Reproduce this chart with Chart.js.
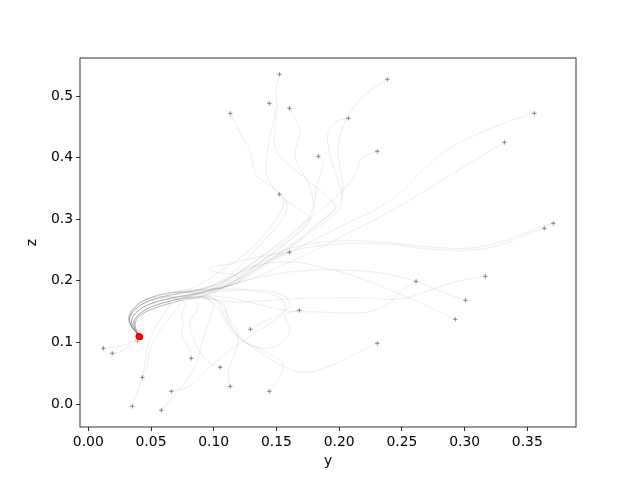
<!DOCTYPE html>
<html>
<head>
<meta charset="utf-8">
<script src="https://cdn.jsdelivr.net/npm/chart.js@4/dist/chart.umd.min.js"></script>
<style>
  html, body { margin: 0; padding: 0; background: #fff; }
  canvas { display: block; }
</style>
</head>
<body>
<canvas id="chart" width="640" height="480"></canvas>
<script>
// trajectories, each one [y, z] from its start (+) to the red end point
const path01 = [[0.1525,0.5352],[0.1496,0.5097],[0.1504,0.4773],[0.1488,0.4497],[0.1496,0.4123],[0.1584,0.3912],[0.1728,0.3669],[0.1887,0.3393],[0.1967,0.3182],[0.1847,0.2955],[0.1608,0.2581],[0.1369,0.2224],[0.1130,0.1932],[0.0891,0.1818],[0.0667,0.1721],[0.0492,0.1623],[0.0396,0.1510],[0.0348,0.1380],[0.0356,0.1250],[0.0388,0.1153],[0.0407,0.1093]];
const path02 = [[0.2384,0.5271],[0.2222,0.5049],[0.2102,0.4773],[0.2030,0.4497],[0.1991,0.4172],[0.2007,0.3847],[0.2030,0.3474],[0.1991,0.3231],[0.1847,0.2955],[0.1608,0.2532],[0.1329,0.2143],[0.1090,0.1900],[0.0851,0.1840],[0.0652,0.1770],[0.0480,0.1670],[0.0380,0.1545],[0.0330,0.1400],[0.0345,0.1262],[0.0384,0.1160],[0.0405,0.1097]];
const path03 = [[0.1443,0.4881],[0.1488,0.4773],[0.1464,0.4497],[0.1433,0.4172],[0.1417,0.3847],[0.1449,0.3588],[0.1552,0.3344],[0.1688,0.3149],[0.1767,0.2987],[0.1608,0.2662],[0.1369,0.2289],[0.1130,0.1960],[0.0891,0.1795],[0.0690,0.1690],[0.0520,0.1590],[0.0420,0.1480],[0.0368,0.1360],[0.0370,0.1235],[0.0395,0.1145],[0.0410,0.1090]];
const path04 = [[0.1132,0.4719],[0.1170,0.4562],[0.1225,0.4334],[0.1289,0.4123],[0.1313,0.3880],[0.1353,0.3685],[0.1464,0.3523],[0.1544,0.3393],[0.1584,0.3182],[0.1512,0.2906],[0.1329,0.2500],[0.1130,0.2094],[0.0930,0.1890],[0.0640,0.1800],[0.0465,0.1700],[0.0370,0.1565],[0.0325,0.1420],[0.0340,0.1275],[0.0380,0.1170],[0.0403,0.1100]];
const path05 = [[0.1603,0.4800],[0.1648,0.4643],[0.1688,0.4448],[0.1664,0.4237],[0.1648,0.4042],[0.1688,0.3831],[0.1752,0.3588],[0.1791,0.3312],[0.1783,0.3068],[0.1648,0.2743],[0.1409,0.2370],[0.1170,0.2010],[0.0930,0.1770],[0.0700,0.1660],[0.0535,0.1560],[0.0430,0.1460],[0.0378,0.1345],[0.0378,0.1228],[0.0398,0.1140],[0.0411,0.1088]];
const path06 = [[0.2073,0.4638],[0.1983,0.4594],[0.1919,0.4448],[0.1911,0.4205],[0.1943,0.3929],[0.1991,0.3636],[0.2022,0.3393],[0.2007,0.3182],[0.1887,0.2955],[0.1688,0.2662],[0.1449,0.2338],[0.1209,0.2045],[0.0970,0.1851],[0.0667,0.1721],[0.0492,0.1623],[0.0396,0.1510],[0.0348,0.1380],[0.0356,0.1250],[0.0388,0.1153],[0.0407,0.1093]];
const path07 = [[0.1834,0.4021],[0.1871,0.3912],[0.1847,0.3718],[0.1815,0.3474],[0.1799,0.3231],[0.1727,0.2955],[0.1568,0.2662],[0.1369,0.2370],[0.1170,0.2094],[0.0954,0.1880],[0.0652,0.1770],[0.0480,0.1670],[0.0380,0.1545],[0.0330,0.1400],[0.0345,0.1262],[0.0384,0.1160],[0.0405,0.1097]];
const path08 = [[0.2304,0.4102],[0.2182,0.3994],[0.2142,0.3799],[0.2070,0.3555],[0.1967,0.3344],[0.1831,0.3117],[0.1648,0.2825],[0.1449,0.2500],[0.1249,0.2208],[0.1050,0.1940],[0.0891,0.1800],[0.0690,0.1690],[0.0520,0.1590],[0.0420,0.1480],[0.0368,0.1360],[0.0370,0.1235],[0.0395,0.1145],[0.0410,0.1090]];
const path09 = [[0.1523,0.3404],[0.1560,0.3279],[0.1520,0.3068],[0.1433,0.2825],[0.1329,0.2581],[0.1209,0.2370],[0.1066,0.2175],[0.0930,0.1990],[0.0811,0.1870],[0.0640,0.1800],[0.0465,0.1700],[0.0370,0.1565],[0.0325,0.1420],[0.0340,0.1275],[0.0380,0.1170],[0.0403,0.1100]];
const path10 = [[0.3556,0.4719],[0.3338,0.4578],[0.3123,0.4399],[0.2860,0.4123],[0.2669,0.3799],[0.2485,0.3425],[0.2325,0.3198],[0.2086,0.2955],[0.1847,0.2711],[0.1608,0.2468],[0.1369,0.2240],[0.1170,0.1990],[0.0970,0.1790],[0.0700,0.1660],[0.0535,0.1560],[0.0430,0.1460],[0.0378,0.1345],[0.0378,0.1228],[0.0398,0.1140],[0.0411,0.1088]];
const path11 = [[0.3317,0.4248],[0.3123,0.4010],[0.2860,0.3685],[0.2589,0.3344],[0.2325,0.3036],[0.2086,0.2792],[0.1847,0.2532],[0.1608,0.2305],[0.1369,0.2094],[0.1170,0.1948],[0.0930,0.1818],[0.0667,0.1721],[0.0492,0.1623],[0.0396,0.1510],[0.0348,0.1380],[0.0356,0.1250],[0.0388,0.1153],[0.0407,0.1093]];
const path12 = [[0.3707,0.2933],[0.3627,0.2890],[0.3498,0.2792],[0.3258,0.2614],[0.3043,0.2532],[0.2724,0.2549],[0.2325,0.2630],[0.2007,0.2646],[0.1688,0.2565],[0.1449,0.2403],[0.1249,0.2175],[0.1050,0.1960],[0.0851,0.1845],[0.0652,0.1770],[0.0480,0.1670],[0.0380,0.1545],[0.0330,0.1400],[0.0345,0.1262],[0.0384,0.1160],[0.0405,0.1097]];
const path13 = [[0.3635,0.2852],[0.3522,0.2776],[0.3282,0.2581],[0.3043,0.2500],[0.2724,0.2516],[0.2365,0.2597],[0.2007,0.2597],[0.1688,0.2516],[0.1409,0.2321],[0.1209,0.2094],[0.1010,0.1880],[0.0811,0.1770],[0.0690,0.1690],[0.0520,0.1590],[0.0420,0.1480],[0.0368,0.1360],[0.0370,0.1235],[0.0395,0.1145],[0.0410,0.1090]];
const path14 = [[0.1603,0.2463],[0.1496,0.2435],[0.1313,0.2370],[0.1130,0.2272],[0.0970,0.2208],[0.1010,0.2143],[0.1170,0.2094],[0.1209,0.1990],[0.1050,0.1890],[0.0851,0.1850],[0.0640,0.1800],[0.0465,0.1700],[0.0370,0.1565],[0.0325,0.1420],[0.0340,0.1275],[0.0380,0.1170],[0.0403,0.1100]];
const path15 = [[0.3165,0.2073],[0.2924,0.1981],[0.2685,0.1818],[0.2485,0.1705],[0.2206,0.1721],[0.1927,0.1721],[0.1608,0.1705],[0.1369,0.1672],[0.1170,0.1656],[0.0970,0.1700],[0.0771,0.1710],[0.0700,0.1660],[0.0535,0.1560],[0.0430,0.1460],[0.0378,0.1345],[0.0378,0.1228],[0.0398,0.1140],[0.0411,0.1088]];
const path16 = [[0.3006,0.1683],[0.2804,0.1834],[0.2605,0.1997],[0.2325,0.2127],[0.2007,0.2175],[0.1688,0.2159],[0.1409,0.2078],[0.1209,0.1980],[0.1010,0.1851],[0.0811,0.1769],[0.0667,0.1721],[0.0492,0.1623],[0.0396,0.1510],[0.0348,0.1380],[0.0356,0.1250],[0.0388,0.1153],[0.0407,0.1093]];
const path17 = [[0.2926,0.1375],[0.2685,0.1607],[0.2445,0.1818],[0.2166,0.2045],[0.1887,0.2208],[0.1608,0.2305],[0.1329,0.2240],[0.1130,0.2062],[0.0930,0.1880],[0.0731,0.1790],[0.0480,0.1670],[0.0380,0.1545],[0.0330,0.1400],[0.0345,0.1262],[0.0384,0.1160],[0.0405,0.1097]];
const path18 = [[0.2613,0.1992],[0.2509,0.1851],[0.2405,0.1656],[0.2269,0.1510],[0.2086,0.1477],[0.1847,0.1494],[0.1608,0.1510],[0.1409,0.1591],[0.1209,0.1688],[0.1010,0.1750],[0.0811,0.1730],[0.0690,0.1690],[0.0520,0.1590],[0.0420,0.1480],[0.0368,0.1360],[0.0370,0.1235],[0.0395,0.1145],[0.0410,0.1090]];
const path19 = [[0.1682,0.1521],[0.1568,0.1445],[0.1608,0.1234],[0.1568,0.1039],[0.1449,0.0909],[0.1289,0.0958],[0.1170,0.1120],[0.1090,0.1364],[0.1010,0.1607],[0.0851,0.1780],[0.0640,0.1800],[0.0465,0.1700],[0.0370,0.1565],[0.0325,0.1420],[0.0340,0.1275],[0.0380,0.1170],[0.0403,0.1100]];
const path20 = [[0.2304,0.0985],[0.2142,0.0828],[0.1951,0.0633],[0.1744,0.0519],[0.1584,0.0584],[0.1425,0.0763],[0.1265,0.0990],[0.1154,0.1201],[0.1074,0.1477],[0.1010,0.1690],[0.0811,0.1720],[0.0700,0.1660],[0.0535,0.1560],[0.0430,0.1460],[0.0378,0.1345],[0.0378,0.1228],[0.0398,0.1140],[0.0411,0.1088]];
const path21 = [[0.1292,0.1213],[0.1409,0.1347],[0.1544,0.1477],[0.1608,0.1640],[0.1528,0.1786],[0.1329,0.1851],[0.1090,0.1834],[0.0891,0.1790],[0.0667,0.1721],[0.0492,0.1623],[0.0396,0.1510],[0.0348,0.1380],[0.0356,0.1250],[0.0388,0.1153],[0.0407,0.1093]];
const path22 = [[0.0662,0.0206],[0.0811,0.0292],[0.0970,0.0601],[0.1130,0.0877],[0.1329,0.1153],[0.1488,0.1364],[0.1568,0.1526],[0.1528,0.1721],[0.1329,0.1830],[0.1090,0.1870],[0.0851,0.1830],[0.0652,0.1770],[0.0480,0.1670],[0.0380,0.1545],[0.0330,0.1400],[0.0345,0.1262],[0.0384,0.1160],[0.0405,0.1097]];
const path23 = [[0.0582,-0.0102],[0.0675,0.0114],[0.0787,0.0390],[0.0867,0.0714],[0.0914,0.1039],[0.0970,0.1396],[0.0986,0.1660],[0.0851,0.1740],[0.0690,0.1690],[0.0520,0.1590],[0.0420,0.1480],[0.0368,0.1360],[0.0370,0.1235],[0.0395,0.1145],[0.0410,0.1090]];
const path24 = [[0.0431,0.0433],[0.0468,0.0601],[0.0492,0.0877],[0.0572,0.1201],[0.0667,0.1445],[0.0731,0.1640],[0.0652,0.1740],[0.0465,0.1700],[0.0370,0.1565],[0.0325,0.1420],[0.0340,0.1275],[0.0380,0.1170],[0.0403,0.1100]];
const path25 = [[0.0351,-0.0037],[0.0388,0.0179],[0.0428,0.0422],[0.0452,0.0682],[0.0476,0.0958],[0.0532,0.1234],[0.0612,0.1494],[0.0652,0.1620],[0.0600,0.1610],[0.0535,0.1560],[0.0430,0.1460],[0.0378,0.1345],[0.0378,0.1228],[0.0398,0.1140],[0.0411,0.1088]];
const path26 = [[0.0821,0.0742],[0.0811,0.0877],[0.0747,0.1088],[0.0755,0.1315],[0.0747,0.1477],[0.0771,0.1640],[0.0691,0.1710],[0.0492,0.1623],[0.0396,0.1510],[0.0348,0.1380],[0.0356,0.1250],[0.0388,0.1153],[0.0407,0.1093]];
const path27 = [[0.1052,0.0596],[0.0970,0.0666],[0.0891,0.0844],[0.0835,0.1088],[0.0811,0.1315],[0.0875,0.1607],[0.0771,0.1740],[0.0480,0.1670],[0.0380,0.1545],[0.0330,0.1400],[0.0345,0.1262],[0.0384,0.1160],[0.0405,0.1097]];
const path28 = [[0.1132,0.0287],[0.1114,0.0503],[0.1170,0.0828],[0.1193,0.1153],[0.1114,0.1412],[0.1066,0.1640],[0.0891,0.1750],[0.0690,0.1690],[0.0520,0.1590],[0.0420,0.1480],[0.0368,0.1360],[0.0370,0.1235],[0.0395,0.1145],[0.0410,0.1090]];
const path29 = [[0.1443,0.0206],[0.1528,0.0438],[0.1544,0.0666],[0.1425,0.0828],[0.1209,0.1071],[0.1130,0.1315],[0.1074,0.1575],[0.0930,0.1780],[0.0640,0.1800],[0.0465,0.1700],[0.0370,0.1565],[0.0325,0.1420],[0.0340,0.1275],[0.0380,0.1170],[0.0403,0.1100]];
const path30 = [[0.0120,0.0904],[0.0213,0.0925],[0.0293,0.0958],[0.0356,0.1023],[0.0388,0.1039],[0.0403,0.1075],[0.0406,0.1094]];
const path31 = [[0.0191,0.0823],[0.0253,0.0844],[0.0317,0.0925],[0.0356,0.0990],[0.0392,0.1060],[0.0408,0.1098]];

// the faint red "+" just under the end point
const ghostY = [0.0391];
const ghostZ = [0.1018];

// tick labels
const yAxisTicks = [0.00, 0.05, 0.10, 0.15, 0.20, 0.25, 0.30, 0.35];
const zAxisTicks = [0.0, 0.1, 0.2, 0.3, 0.4, 0.5];

const paths = [path01, path02, path03, path04, path05, path06, path07, path08, path09, path10,
  path11, path12, path13, path14, path15, path16, path17, path18, path19, path20,
  path21, path22, path23, path24, path25, path26, path27, path28, path29, path30, path31];

const FONT = "'DejaVu Sans', sans-serif";
const toPt = (p) => ({ x: p[0], y: p[1] });

const lineSets = paths.map((p) => ({
  data: p.map(toPt),
  showLine: true,
  borderColor: "rgba(110, 110, 110, 0.16)",
  borderWidth: 0.8,
  pointRadius: 0,
  tension: 0.4,
  order: 3,
}));

const startSet = {
  data: paths.map((p) => toPt(p[0])),
  showLine: false,
  pointStyle: "cross",
  pointRadius: 2.2,
  pointBorderColor: "rgba(100, 100, 100, 0.75)",
  pointBorderWidth: 1,
  order: 1,
};

const endSet = {
  data: paths.map((p) => toPt(p[p.length - 1])),
  showLine: false,
  pointStyle: "circle",
  pointRadius: 3,
  pointBackgroundColor: "rgba(255, 0, 0, 0.8)",
  pointBorderWidth: 0,
  order: 0,
};

const ghostSet = {
  data: ghostY.map((v, i) => ({ x: v, y: ghostZ[i] })),
  showLine: false,
  pointStyle: "cross",
  pointRadius: 2.2,
  pointBorderColor: "rgba(255, 0, 0, 0.4)",
  pointBorderWidth: 1,
  order: 2,
};

// black box round the plot like matplotlib's spines
const framePlugin = {
  id: "frame",
  afterDatasetsDraw(chart) {
    const { ctx, chartArea: a } = chart;
    ctx.save();
    ctx.strokeStyle = "#000";
    ctx.lineWidth = 0.8;
    ctx.strokeRect(a.left, a.top, a.right - a.left, a.bottom - a.top);
    ctx.restore();
  },
};

const tickGrid = {
  drawOnChartArea: false,
  drawTicks: true,
  tickLength: 4,
  tickColor: "#000",
  tickWidth: 0.8,
};

new Chart(document.getElementById("chart"), {
  type: "scatter",
  data: { datasets: [endSet, startSet, ghostSet, ...lineSets] },
  plugins: [framePlugin],
  options: {
    responsive: false,
    animation: false,
    devicePixelRatio: 1,
    layout: { padding: { top: 58, right: 64, left: 0, bottom: 0 } },
    plugins: { legend: { display: false }, tooltip: { enabled: false } },
    scales: {
      x: {
        type: "linear",
        min: -0.0066,
        max: 0.3888,
        afterBuildTicks: (s) => { s.ticks = yAxisTicks.map((v) => ({ value: v })); },
        afterFit: (s) => { s.height = 53; },
        grid: tickGrid,
        border: { display: false },
        ticks: {
          color: "#000",
          font: { family: FONT, size: 13.9 },
          padding: 3,
          maxRotation: 0,
          autoSkip: false,
          callback: (v) => Number(v).toFixed(2),
        },
        title: {
          display: true,
          text: "y",
          color: "#000",
          font: { family: FONT, size: 13.9 },
          padding: { top: 0, bottom: 10 },
        },
      },
      y: {
        type: "linear",
        min: -0.0373,
        max: 0.5617,
        afterBuildTicks: (s) => { s.ticks = zAxisTicks.map((v) => ({ value: v })); },
        afterFit: (s) => { s.width = 80; },
        grid: tickGrid,
        border: { display: false },
        ticks: {
          color: "#000",
          font: { family: FONT, size: 13.9 },
          padding: 3,
          autoSkip: false,
          callback: (v) => Number(v).toFixed(1),
        },
        title: {
          display: true,
          text: "z",
          color: "#000",
          font: { family: FONT, size: 13.9 },
          padding: { top: 24, bottom: 0 },
        },
      },
    },
  },
});
</script>
</body>
</html>
